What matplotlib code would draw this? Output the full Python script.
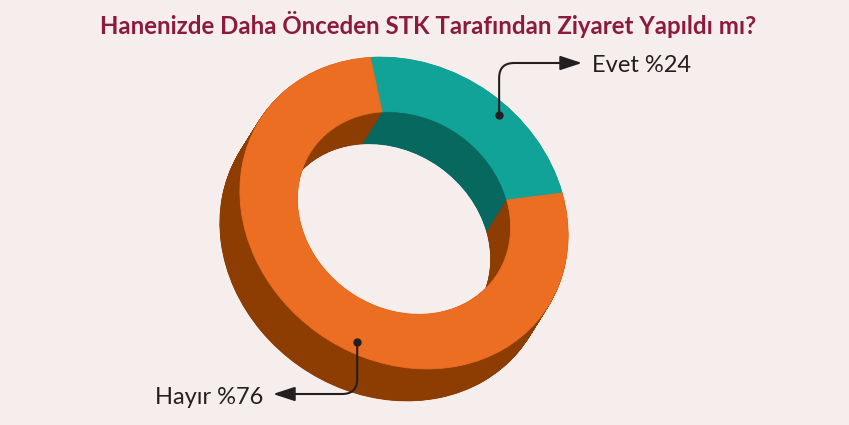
import numpy as np
import matplotlib
matplotlib.use("Agg")
import matplotlib.pyplot as plt
from matplotlib.patches import Wedge
from matplotlib.transforms import Affine2D

# ---- data ----
labels = ["Evet", "Hayır"]
values = [24, 76]
title = "Hanenizde Daha Önceden STK Tarafından Ziyaret Yapıldı mı?"

# ---- style ----
bg = "#f6eeec"
top_colors = ["#12a398", "#ec6e22"]
side_colors = ["#07685f", "#8e3d02"]
title_color = "#8b1a3f"
text_color = "#231f20"
start_angle = 11.5

W, H = 849, 425
fig = plt.figure(figsize=(W / 100, H / 100), dpi=100, facecolor=bg)
ax = fig.add_axes([0, 0, 1, 1])
ax.set_xlim(0, W)
ax.set_ylim(0, H)
ax.axis("off")
ax.set_facecolor(bg)

# geometry of the tilted donut (pixel units, y up)
cx, cy = 404, 212
a, b, phi = 171.6, 147.6, np.deg2rad(-35)
Rm = np.array([[np.cos(phi), -np.sin(phi)], [np.sin(phi), np.cos(phi)]])
M = Rm @ np.diag([a, b]) @ Rm.T
depth = np.array([-20.0, -32.0])
ring_w = 0.35


def tf(off):
    mat = np.array([[M[0, 0], M[0, 1], cx + off[0]],
                    [M[1, 0], M[1, 1], cy + off[1]],
                    [0, 0, 1]])
    return Affine2D(mat) + ax.transData


bounds = [start_angle]
for v in values:
    bounds.append(bounds[-1] + v / sum(values) * 360)

n = 90
for k in range(n, 0, -1):
    off = depth * k / n
    for i in range(len(values)):
        ax.add_patch(Wedge((0, 0), 1, bounds[i], bounds[i + 1], width=ring_w,
                           transform=tf(off), fc=side_colors[i],
                           ec=side_colors[i], lw=0.6))
for i in range(len(values)):
    ax.add_patch(Wedge((0, 0), 1, bounds[i], bounds[i + 1], width=ring_w,
                       transform=tf((0, 0)), fc=top_colors[i],
                       ec=top_colors[i], lw=0.6))


def ring_point(r, ang):
    p = M @ np.array([r * np.cos(np.deg2rad(ang)), r * np.sin(np.deg2rad(ang))])
    return cx + p[0], cy + p[1]


# annotations
dot_specs = [(0.92, 47.0), (0.92, 248.0)]
tips = [(582, 362), (273, 31)]
conn = ["angle,angleA=90,angleB=0,rad=15", "angle,angleA=-90,angleB=0,rad=15"]
text_pos = [(592, 360, "left"), (263, 28, "right")]
for i in range(len(values)):
    dx, dy = ring_point(*dot_specs[i])
    ax.annotate("", xy=tips[i], xytext=(dx, dy),
                arrowprops=dict(arrowstyle="-|>,head_length=1.1,head_width=0.36",
                                mutation_scale=12, color=text_color, lw=1.5,
                                shrinkA=0, shrinkB=0,
                                connectionstyle=conn[i]))
    ax.plot([dx], [dy], "o", color=text_color, ms=5, zorder=5)
    x, y, ha = text_pos[i]
    ax.text(x, y, f"{labels[i]} %{values[i]}", ha=ha, va="center",
            fontsize=17, family="Lato", color=text_color)

fig.text(0.504, 1 - 25 / H, title, ha="center", va="center", fontsize=17.3,
         fontweight="bold", family="Lato", color=title_color)

fig.savefig("out.png", dpi=100, facecolor=bg)
